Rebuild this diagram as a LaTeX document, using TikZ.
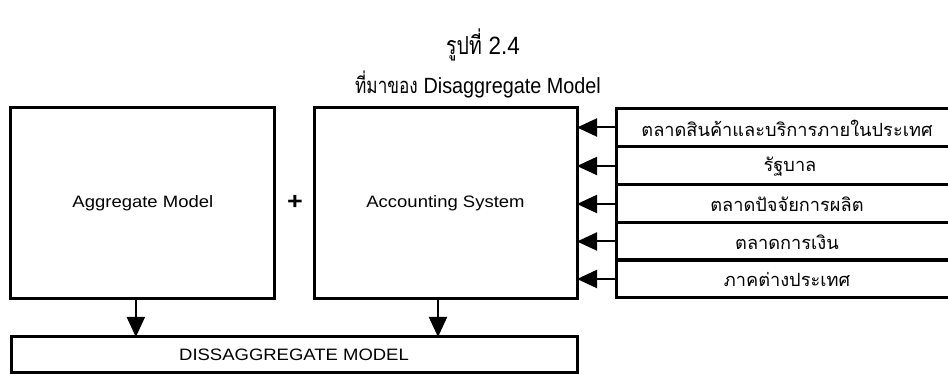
\documentclass[tikz,border=0pt]{standalone}
\usepackage{fontspec}
\setmainfont{Liberation Sans}
\newfontfamily\boxfont{Liberation Sans}[FakeStretch=1.12]
\newfontfamily\thaifont[Script=Thai]{Loma}
\newfontfamily\thaicond[Script=Thai]{Loma}[FakeStretch=0.78]
\newfontfamily\titlelat{Liberation Sans}[FakeStretch=0.9]
\usetikzlibrary{arrows.meta}
\begin{document}
\begin{tikzpicture}[x=1pt,y=1pt,
  box/.style={draw=black, line width=3pt, inner sep=0pt, font=\boxfont\fontsize{16.5}{18}\selectfont},
  row/.style={draw=black, line width=3pt, inner sep=0pt, minimum width=336pt, minimum height=38pt},
  rowlabel/.style={font=\thaifont\fontsize{18.2}{20}\selectfont},
  conn/.style={line width=2pt, -{Triangle[length=20pt,width=18pt]}, shorten >=-1.5pt},
  every node/.style={anchor=center}]
\useasboundingbox (0,0) rectangle (948,374);
% titles
\node (t1) at (483,329) {\thaicond\fontsize{25}{27}\selectfont รูปที่ \titlelat 2.4};
\node (t2) at (478,290) {\thaicond\fontsize{22}{24}\selectfont ที่มาของ \titlelat Disaggregate Model};
% main boxes
\node[box, minimum width=264pt, minimum height=191pt] (L) at (142.85,170.5) {Aggregate Model};
\node[box, minimum width=263pt, minimum height=191pt] (A) at (445.5,170.5) {Accounting System};
\node[box, minimum width=566pt, minimum height=36pt] (B) at (294,19) {DISSAGGREGATE MODEL};
\node[font=\boxfont\bfseries\fontsize{24}{24}\selectfont] (plus) at (295,172) {+};
% right rows
\node[row] (r1) at (784,246.5) {};
\node[row] (r2) at (784,208) {};
\node[row] (r3) at (784,170) {};
\node[row] (r4) at (784,132.5) {};
\node[row] (r5) at (784,95) {};
\node[rowlabel] (l1) at (787,246) {ตลาดสินค้าและบริการภายในประเทศ};
\node[rowlabel] (l2) at (790,207.5) {รัฐบาล};
\node[rowlabel] (l3) at (787,169.5) {ตลาดปัจจัยการผลิต};
\node[rowlabel] (l4) at (787,132) {ตลาดการเงิน};
\node[rowlabel] (l5) at (787,94.5) {ภาคต่างประเทศ};
% connectors
\foreach \r in {r1,r2,r3,r4,r5}{
  \draw[conn] (\r.west) -- (A.east |- \r.west);
}
\draw[conn] ([xshift=-7pt]L.south) -- ([xshift=-7pt]L.south |- B.north);
\draw[conn] ([xshift=-7.5pt]A.south) -- ([xshift=-7.5pt]A.south |- B.north);
\end{tikzpicture}
\end{document}
